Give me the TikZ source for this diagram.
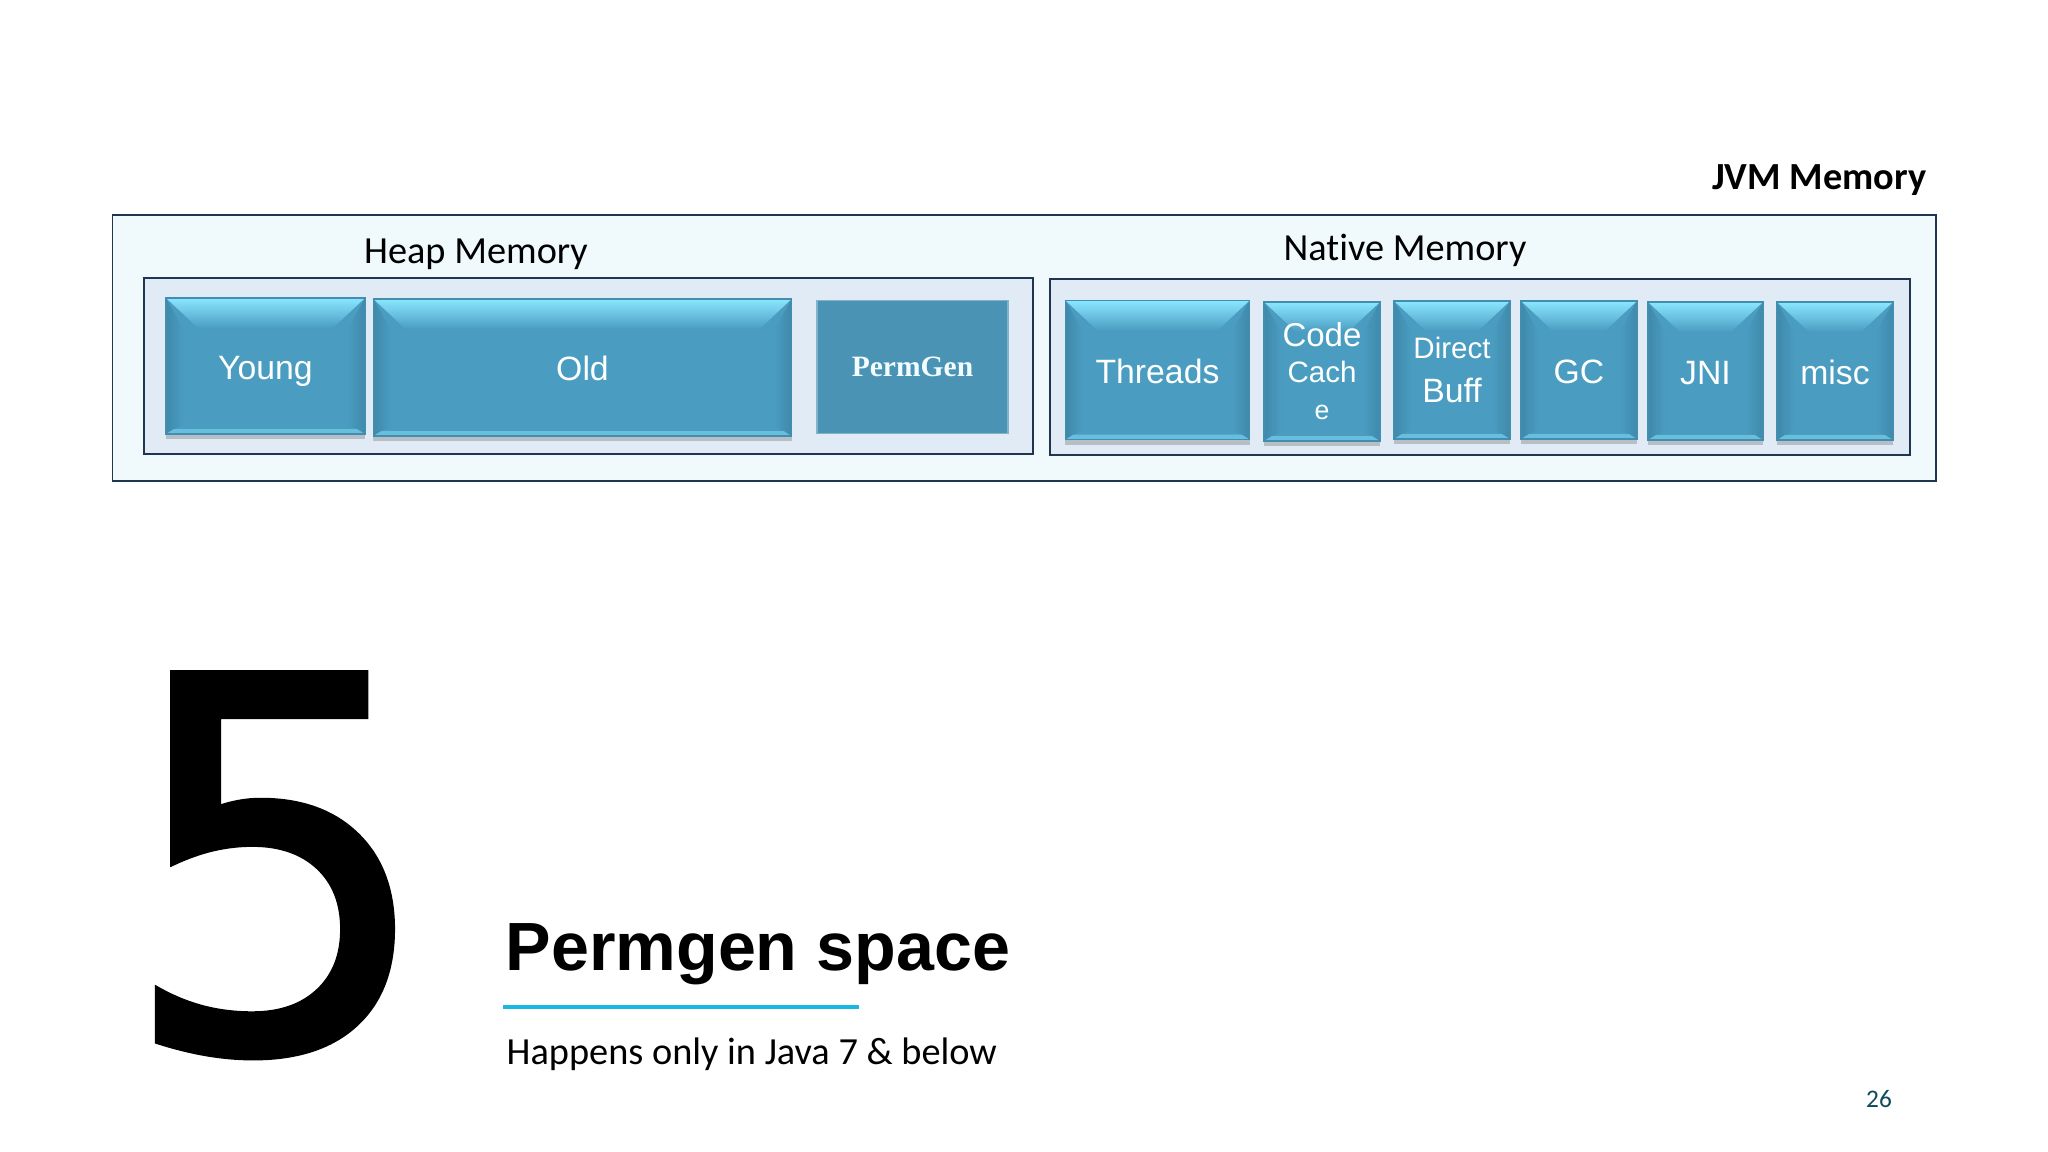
\documentclass[tikz,border=0pt]{standalone}
\usepackage{fontspec}
\setmainfont[Ligatures=NoCommon]{Carlito}
\setsansfont{Liberation Sans}
\newfontfamily\permfont{Liberation Serif}
\newfontfamily\numberfont[FakeBold=1.2]{DejaVu Sans}
\usetikzlibrary{shadows}
\definecolor{frameedge}{HTML}{1F3552}
\definecolor{outerfill}{HTML}{F0FAFD}
\definecolor{innerfill}{HTML}{E0EBF6}
\definecolor{boxblue}{HTML}{4A9DC1}
\definecolor{boxdark}{HTML}{3F89AB}
\definecolor{boxlight}{HTML}{8AE6FF}
\definecolor{permblue}{HTML}{4B93B4}
\definecolor{rulecyan}{HTML}{17B9E2}
\definecolor{pageteal}{HTML}{0E4A5A}
\newcommand{\pxfont}[1]{\fontsize{#1}{#1}\selectfont}
\tikzset{
    outerbox/.style={draw=frameedge,line width=0.55pt,fill=outerfill,inner sep=0pt,outer sep=0pt},
    innerbox/.style={draw=frameedge,line width=0.55pt,fill=innerfill,inner sep=0pt,outer sep=0pt},
    bluebox/.style={draw=boxblue!90!black,line width=0.4pt,fill=boxblue,inner sep=0pt,outer sep=0pt,
        text=white,font=\sffamily\pxfont{9.6},align=center,
        drop shadow={shadow xshift=0pt,shadow yshift=-0.05cm,opacity=0.3,fill=black!65},
        path picture={
            \coordinate (nw) at (path picture bounding box.north west);
            \coordinate (ne) at (path picture bounding box.north east);
            \coordinate (sw) at (path picture bounding box.south west);
            \coordinate (se) at (path picture bounding box.south east);
            \shade[left color=boxdark,right color=boxblue] (nw) -- ([shift={(18,32)}]nw) -- ([shift={(18,-10)}]sw) -- (sw) -- cycle;
            \shade[left color=boxblue,right color=boxdark] (ne) -- ([shift={(-18,32)}]ne) -- ([shift={(-18,-10)}]se) -- (se) -- cycle;
            \shade[top color=boxlight,bottom color=boxblue] (nw) -- (ne) -- ([shift={(-32,30)}]ne) -- ([shift={(32,30)}]nw) -- cycle;
            \fill[boxlight!45!boxblue] (sw) -- (se) -- ([shift={(-8,-5)}]se) -- ([shift={(8,-5)}]sw) -- cycle;
        }},
    oneline/.style={text height=9.5pt,text depth=2pt},
    frametitle/.style={font=\pxfont{10.9},text=black,inner sep=0pt},
}
\begin{document}
\begin{tikzpicture}[x=0.01cm,y=-0.01cm]
    \useasboundingbox (0,0) rectangle (2048,1152);
    \fill[white] (0,0) rectangle (2048,1152);
    % memory frames
    \node[outerbox,minimum width=18.22cm,minimum height=2.65cm] (jvm) at (1024,348) {};
    \node[innerbox,minimum width=8.88cm,minimum height=1.76cm] (heap) at (588.5,366) {};
    \node[innerbox,minimum width=8.59cm,minimum height=1.76cm] (native) at (1480,367) {};
    \node[frametitle,font=\bfseries\pxfont{10.9},anchor=east] (jvmtitle) at (1927,180) {JVM Memory};
    \node[frametitle] (heaptitle) at (476,254) {Heap Memory};
    \node[frametitle] (nativetitle) at (1405,250) {Native Memory};
    % heap
    \node[bluebox,oneline,minimum width=1.99cm,minimum height=1.36cm] (young) at (265.5,366) {Young};
    \node[bluebox,oneline,minimum width=4.18cm,minimum height=1.37cm] (old) at (582.5,367.5) {Old};
    \node[draw=permblue!70!white,line width=0.4pt,fill=permblue,minimum width=1.91cm,minimum height=1.33cm,inner sep=0pt,
        text=white!90!boxlight,font=\permfont\bfseries\pxfont{8.4}] (permgen) at (912.5,367) {PermGen};
    % native
    \node[bluebox,oneline,minimum width=1.84cm,minimum height=1.39cm] (threads) at (1157.5,370) {Threads};
    \node[bluebox,minimum width=1.16cm,minimum height=1.39cm] (code) at (1322,371.5) {\pxfont{9.4}Code\\[0.6pt]\pxfont{8.4}Cach\\[1pt]\pxfont{7.6}e};
    \node[bluebox,minimum width=1.16cm,minimum height=1.38cm] (direct) at (1452,370) {\pxfont{8.4}Direct\\[3pt]\pxfont{9.6}Buff};
    \node[bluebox,oneline,minimum width=1.16cm,minimum height=1.38cm] (gc) at (1579,370) {GC};
    \node[bluebox,oneline,minimum width=1.15cm,minimum height=1.38cm] (jni) at (1705.5,371) {JNI};
    \node[bluebox,oneline,minimum width=1.16cm,minimum height=1.38cm] (misc) at (1835,371) {misc};
    % section title
    \node[anchor=base west,inner sep=0pt,font=\numberfont\pxfont{147},xscale=0.96] (number) at (119,1050) {5};
    \node[anchor=base west,inner sep=0pt,font=\sffamily\bfseries\pxfont{19.4}] (section) at (505,970) {Permgen space};
    \coordinate (rulea) at (503,1007);
    \coordinate (ruleb) at (859,1007);
    \draw[rulecyan,line width=1.4pt] (rulea) -- (ruleb);
    \node[anchor=base west,inner sep=0pt,font=\pxfont{10.9}] (subtitle) at (506,1064) {Happens only in Java 7 \& below};
    \node[inner sep=0pt,text=pageteal,font=\pxfont{7.2}] (pagenum) at (1879,1099) {26};
\end{tikzpicture}
\end{document}
